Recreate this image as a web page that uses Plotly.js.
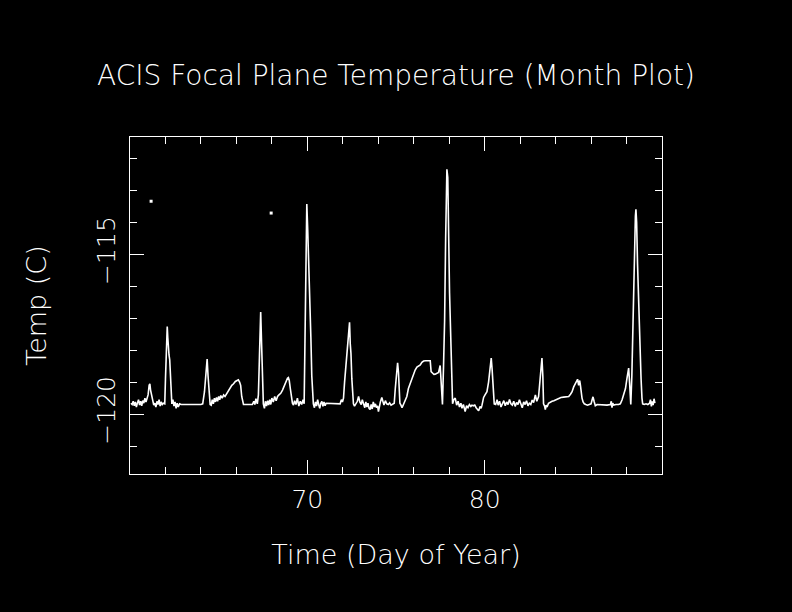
<!DOCTYPE html>
<html>
<head>
<meta charset="utf-8">
<script src="https://cdn.plot.ly/plotly-3.0.1.min.js"></script>
<style>html,body{margin:0;padding:0;background:#000;}#chart{width:792px;height:612px;}</style>
</head>
<body>
<div id="chart"></div>
<script>
// Time (day of year) for the focal plane temperature trace
const days = [
60.05,60.12,60.18,60.24,60.30,60.36,60.42,60.48,60.54,60.60,60.66,60.72,60.78,60.84,60.90,60.96,
61.02,61.08,61.12,61.16,61.22,61.28,61.34,61.40,61.46,61.52,61.58,61.64,61.70,61.76,61.82,61.88,61.96,
62.00,62.05,62.08,62.10,62.13,62.16,62.20,62.24,62.28,62.32,62.36,62.42,62.48,62.54,62.60,62.66,62.72,62.80,62.88,
64.00,64.10,64.20,64.28,64.35,64.40,64.46,64.52,64.58,64.64,64.70,64.76,64.82,64.88,64.94,
65.00,65.06,65.12,65.20,65.28,65.36,65.46,65.56,65.66,65.74,65.84,65.94,
66.04,66.11,66.18,66.24,66.30,66.36,66.40,66.90,66.98,
67.04,67.10,67.18,67.24,67.30,67.37,67.42,67.47,67.52,67.58,67.64,67.70,67.76,67.82,67.88,67.94,
68.00,68.08,68.16,68.24,68.32,68.40,68.50,68.60,68.70,68.80,68.88,68.93,68.98,
69.04,69.10,69.16,69.22,69.28,69.36,69.44,69.52,69.60,69.68,69.76,69.82,69.87,69.92,69.97,
70.02,70.06,70.11,70.15,70.20,70.25,70.29,70.34,70.40,70.46,70.52,70.58,70.64,70.70,70.76,70.82,70.88,70.94,
71.00,71.06,71.85,71.92,71.98,
72.04,72.10,72.19,72.26,72.32,72.38,72.42,72.46,72.51,72.56,72.60,72.66,72.74,72.82,72.89,72.96,
73.04,73.10,73.17,73.24,73.30,73.36,73.42,73.48,73.54,73.60,73.66,73.72,73.78,73.84,73.90,73.96,
74.01,74.06,74.12,74.20,74.26,74.32,74.40,74.48,74.56,74.64,74.72,74.80,74.90,74.96,
75.02,75.09,75.14,75.18,75.22,75.28,75.34,75.42,75.50,75.61,75.70,75.80,75.90,75.99,
76.08,76.18,76.28,76.37,76.46,76.56,76.66,76.76,76.86,76.93,76.98,
77.06,77.14,77.21,77.30,77.40,77.49,77.55,77.62,77.68,77.74,77.80,77.87,77.92,77.96,
78.00,78.02,78.06,78.10,78.15,78.19,78.26,78.34,78.42,78.50,78.58,78.66,78.72,78.80,78.90,78.98,
79.06,79.14,79.22,79.28,79.36,79.44,79.52,79.60,79.66,79.74,79.80,79.85,79.94,
80.02,80.13,80.22,80.30,80.37,80.42,80.46,80.50,80.54,80.62,80.70,80.76,80.84,80.92,
81.00,81.08,81.16,81.24,81.32,81.40,81.48,81.56,81.64,81.72,81.80,81.88,81.96,
82.04,82.12,82.20,82.28,82.36,82.44,82.52,82.60,82.68,82.76,82.86,82.94,
83.04,83.10,83.16,83.23,83.28,83.32,83.38,83.42,83.47,83.52,83.60,83.70,83.80,83.90,
84.00,84.10,84.20,84.30,84.45,84.60,84.74,84.84,84.93,
85.02,85.11,85.18,85.24,85.30,85.36,85.40,85.45,85.49,85.55,85.62,85.70,85.80,85.90,
86.00,86.06,86.11,86.17,86.24,86.34,86.50,86.70,86.90,
87.09,87.14,87.18,87.22,87.28,87.40,87.55,87.65,87.75,87.85,87.94,
88.02,88.08,88.12,88.18,88.24,88.30,88.36,88.40,88.45,88.50,88.53,88.57,88.62,88.67,88.72,88.77,88.82,88.87,88.91,
89.00,89.10,89.20,89.30,89.35,89.40,89.45,89.50,89.55,89.60
];
// Temperature (C)
const temps = [
-119.66,-119.70,-119.60,-119.74,-119.62,-119.78,-119.65,-119.55,-119.72,-119.60,-119.74,-119.58,-119.66,-119.50,-119.62,-119.45,
-119.40,-119.10,-119.05,-119.25,-119.45,-119.55,-119.72,-119.66,-119.78,-119.60,-119.70,-119.55,-119.75,-119.62,-119.70,-119.66,-119.68,
-118.90,-118.00,-117.50,-117.26,-117.60,-118.05,-118.15,-118.30,-118.80,-119.50,-119.68,-119.55,-119.75,-119.62,-119.82,-119.66,-119.78,-119.68,-119.70,
-119.70,-119.68,-119.30,-118.70,-118.28,-118.80,-119.40,-119.70,-119.72,-119.55,-119.68,-119.50,-119.62,-119.48,-119.60,
-119.45,-119.55,-119.42,-119.50,-119.40,-119.45,-119.35,-119.25,-119.15,-119.10,-119.05,-118.98,
-118.95,-118.93,-119.00,-119.10,-119.45,-119.66,-119.70,-119.70,-119.60,
-119.70,-119.52,-119.68,-119.40,-118.20,-116.81,-117.80,-119.00,-119.68,-119.82,-119.60,-119.75,-119.58,-119.72,-119.55,-119.70,
-119.50,-119.62,-119.45,-119.58,-119.45,-119.40,-119.35,-119.25,-119.10,-119.00,-118.88,-118.86,-118.95,
-119.20,-119.50,-119.66,-119.72,-119.58,-119.70,-119.50,-119.75,-119.60,-119.70,-119.55,-119.68,-117.60,-114.60,-113.43,
-114.20,-114.87,-115.70,-116.43,-117.60,-118.80,-119.50,-119.68,-119.80,-119.62,-119.75,-119.55,-119.70,-119.82,-119.66,-119.60,-119.76,-119.62,
-119.74,-119.66,-119.68,-119.55,-119.62,
-119.50,-119.00,-118.40,-118.00,-117.60,-117.13,-117.80,-118.10,-118.90,-119.40,-119.68,-119.75,-119.66,-119.60,-119.45,-119.62,
-119.70,-119.55,-119.68,-119.80,-119.62,-119.78,-119.66,-119.82,-119.86,-119.70,-119.84,-119.62,-119.78,-119.68,-119.80,-119.74,
-119.92,-119.70,-119.62,-119.48,-119.60,-119.72,-119.58,-119.68,-119.70,-119.65,-119.72,-119.68,-119.66,-119.20,
-118.80,-118.40,-118.70,-119.40,-119.66,-119.72,-119.80,-119.70,-119.60,-119.45,-119.20,-119.03,-118.85,-118.70,
-118.62,-118.53,-118.48,-118.46,-118.38,-118.34,-118.33,-118.33,-118.32,-118.33,-118.67,
-118.72,-118.76,-118.75,-118.72,-118.70,-118.48,-119.10,-119.70,-118.50,-117.10,-114.50,-112.34,-112.60,-113.60,
-115.50,-116.20,-117.00,-117.80,-119.00,-119.68,-119.55,-119.50,-119.72,-119.60,-119.78,-119.66,-119.82,-119.70,-119.92,-119.74,
-119.80,-119.70,-119.76,-119.72,-119.74,-119.72,-119.80,-119.86,-119.90,-119.76,-119.82,-119.72,-119.48,
-119.40,-119.30,-119.00,-118.60,-118.25,-118.60,-118.95,-119.40,-119.68,-119.70,-119.55,-119.72,-119.60,-119.78,
-119.66,-119.58,-119.74,-119.62,-119.70,-119.54,-119.68,-119.72,-119.60,-119.76,-119.64,-119.70,-119.55,
-119.68,-119.80,-119.62,-119.70,-119.58,-119.74,-119.66,-119.70,-119.56,-119.64,-119.40,-119.60,
-119.45,-119.00,-118.50,-118.25,-118.80,-119.68,-119.75,-119.86,-119.72,-119.78,-119.66,-119.62,-119.60,-119.58,
-119.55,-119.52,-119.50,-119.48,-119.47,-119.46,-119.45,-119.38,-119.30,
-119.15,-119.05,-118.95,-118.91,-119.10,-118.95,-119.10,-119.40,-119.50,-119.62,-119.68,-119.70,-119.72,-119.70,
-119.68,-119.55,-119.46,-119.60,-119.74,-119.70,-119.71,-119.70,-119.72,
-119.70,-119.60,-119.80,-119.66,-119.72,-119.70,-119.70,-119.68,-119.55,-119.40,-119.20,
-118.90,-118.70,-118.56,-119.10,-119.70,-118.80,-117.00,-115.60,-114.40,-113.80,-113.59,-114.00,-115.30,-116.40,-117.20,-118.10,-118.90,-119.50,-119.68,
-119.70,-119.68,-119.70,-119.66,-119.55,-119.76,-119.60,-119.72,-119.52,-119.66
];
// isolated outlier readings
const outlierDays = [61.19, 67.96];
const outlierTemps = [-113.34, -113.71];

const xTickVals = [70, 80];
const xTickText = ['70', '80'];
const yTickVals = [-120, -115];
const yTickText = ['\u2212120', '\u2212115'];

const FONT = 'DejaVu Sans, sans-serif';

const traces = [
  {x: days, y: temps, type: 'scatter', mode: 'lines',
   line: {color: '#ffffff', width: 1.6}, hoverinfo: 'x+y', showlegend: false},
  {x: outlierDays, y: outlierTemps, type: 'scatter', mode: 'markers',
   marker: {color: '#ffffff', size: 3, symbol: 'square'}, showlegend: false}
];

const axisCommon = {
  showgrid: false, zeroline: false, showline: true, linecolor: '#ffffff', linewidth: 1,
  mirror: 'ticks', ticks: 'inside', ticklen: 14, tickwidth: 1, tickcolor: '#ffffff',
  tickfont: {family: FONT, size: 25, color: '#ffffff', weight: 200}
};

const layout = {
  width: 792, height: 612,
  paper_bgcolor: '#000000', plot_bgcolor: '#000000',
  margin: {l: 130, r: 130, t: 137, b: 138, pad: 0},
  title: {text: 'ACIS Focal Plane Temperature (Month Plot)',
          font: {family: FONT, size: 28, color: '#ffffff', weight: 200},
          x: 0.5, xanchor: 'center', y: 1 - 75/612, yanchor: 'middle'},
  xaxis: Object.assign({}, axisCommon, {
    range: [60, 90], tickmode: 'array', tickvals: xTickVals, ticktext: xTickText,
    ticklabelstandoff: 3,
    minor: {tickmode: 'linear', tick0: 0, dtick: 2, ticks: 'inside', ticklen: 7, tickcolor: '#ffffff', tickwidth: 1},
    title: {text: 'Time (Day of Year)', font: {family: FONT, size: 27, color: '#ffffff', weight: 200}, standoff: 32}
  }),
  yaxis: Object.assign({}, axisCommon, {
    range: [-121.875, -111.33], tickmode: 'array', tickvals: yTickVals, ticktext: yTickText,
    tickangle: -90, ticklabelstandoff: 4,
    minor: {tickmode: 'linear', tick0: 0, dtick: 1, ticks: 'inside', ticklen: 7, tickcolor: '#ffffff', tickwidth: 1},
    title: {text: 'Temp (C)', font: {family: FONT, size: 27, color: '#ffffff', weight: 200}, standoff: 37}
  })
};

Plotly.newPlot('chart', traces, layout, {displayModeBar: false, staticPlot: true});
</script>
</body>
</html>
